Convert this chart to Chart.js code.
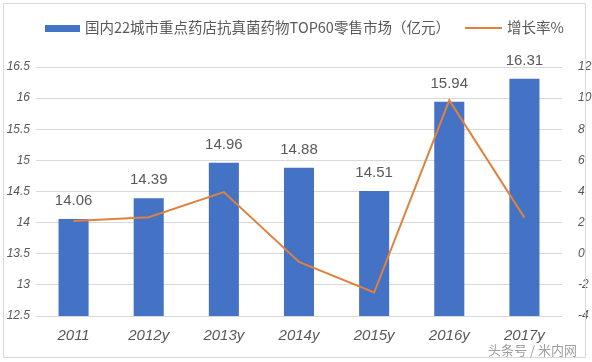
<!DOCTYPE html>
<html>
<head>
<meta charset="utf-8">
<script src="https://cdn.jsdelivr.net/npm/chart.js@4"></script>
<style>
  html, body { margin: 0; padding: 0; background: #fff; }
  #wrap { position: relative; width: 592px; height: 362px; }
  #frame { position: absolute; left: 3px; top: 3px; width: 583px; height: 355px; border: 1px solid #d9d9d9; box-sizing: border-box; pointer-events: none; }
  .legend { position: absolute; top: 17px; font: 14.5px "Noto Sans CJK SC", sans-serif; line-height: 20px; color: #595959; white-space: nowrap; }
  .swatch { display: inline-block; vertical-align: middle; margin-right: 5px; position: relative; top: -1px; }
  #credit { position: absolute; left: 488px; top: 340px; font: 13px "Noto Sans CJK SC", sans-serif; color: #a0a0a0; }
</style>
</head>
<body>
<div id="wrap">
  <canvas id="chart" width="592" height="362"></canvas>
  <div id="frame"></div>
  <div class="legend" style="left:45px"><span class="swatch" style="width:35px;height:7px;background:#4472c4"></span>国内22城市重点药店抗真菌药物TOP60零售市场（亿元）</div>
  <div class="legend" style="left:465px"><span class="swatch" style="width:37px;height:2px;background:#e0823d"></span>增长率%</div>
  <div id="credit">头条号 / 米内网</div>
</div>
<script>
const years = ["2011", "2012y", "2013y", "2014y", "2015y", "2016y", "2017y"]
const sales = [14.06, 14.39, 14.96, 14.88, 14.51, 15.94, 16.31]
const growth = [2.1, 2.35, 3.96, -0.53, -2.49, 9.86, 2.32]

const tickFont = { family: "'Liberation Sans', sans-serif", size: 12, style: "italic" }

const barLabels = {
  id: "barLabels",
  afterDatasetsDraw(chart) {
    const ctx = chart.ctx
    const meta = chart.getDatasetMeta(1)
    ctx.save()
    ctx.font = "15px 'Liberation Sans', sans-serif"
    ctx.fillStyle = "#595959"
    ctx.textAlign = "center"
    ctx.textBaseline = "alphabetic"
    meta.data.forEach((bar, i) => {
      ctx.fillText(sales[i].toFixed(2), bar.x, bar.y - 14)
    })
    ctx.restore()
  }
}

new Chart(document.getElementById("chart"), {
  data: {
    labels: years,
    datasets: [
      {
        type: "line",
        label: "增长率%",
        data: growth,
        yAxisID: "y1",
        borderColor: "#e0823d",
        borderWidth: 2,
        pointRadius: 0,
        tension: 0,
        order: 0
      },
      {
        type: "bar",
        label: "国内22城市重点药店抗真菌药物TOP60零售市场（亿元）",
        data: sales,
        yAxisID: "y",
        backgroundColor: "#4472c4",
        categoryPercentage: 1,
        barPercentage: 0.4,
        order: 1
      }
    ]
  },
  options: {
    responsive: false,
    animation: false,
    layout: { padding: { top: 67, bottom: 0, left: 0, right: 0 } },
    plugins: { legend: { display: false }, tooltip: { enabled: false } },
    scales: {
      x: {
        grid: { display: false },
        border: { display: false },
        ticks: { color: "#595959", font: { family: "'Liberation Sans', sans-serif", size: 15, style: "italic" }, padding: 3 },
        afterFit: s => { s.height = 46 }
      },
      y: {
        position: "left",
        min: 12.5,
        max: 16.5,
        grid: { color: "#d9d9d9", drawTicks: false },
        border: { display: false },
        ticks: { stepSize: 0.5, color: "#595959", font: tickFont, padding: 6, callback: v => String(v) },
        afterFit: s => { s.width = 36 }
      },
      y1: {
        position: "right",
        min: -4,
        max: 12,
        grid: { display: false },
        border: { display: false },
        ticks: { stepSize: 2, color: "#595959", font: tickFont, padding: 8 },
        afterFit: s => { s.width = 30 }
      }
    }
  },
  plugins: [barLabels]
})
</script>
</body>
</html>
